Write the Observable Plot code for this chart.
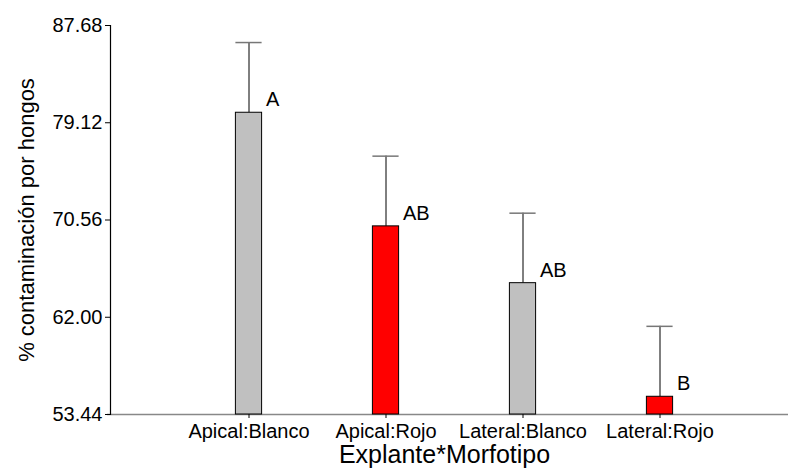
<!DOCTYPE html>
<html>
<head>
<meta charset="utf-8">
<script src="https://cdn.jsdelivr.net/npm/d3@7"></script>
<script src="https://cdn.jsdelivr.net/npm/@observablehq/plot@0.6"></script>
<style>
  html, body { margin: 0; padding: 0; background: #fff; }
</style>
</head>
<body>
<div id="chart"></div>
<script>
const categories = ["Apical:Blanco", "Apical:Rojo", "Lateral:Blanco", "Lateral:Rojo"];
const means = [80.0, 70.0, 65.0, 55.0];
const errors = [6.18, 6.18, 6.16, 6.2];
const letters = ["A", "AB", "AB", "B"];
const colors = ["#c0c0c0", "#ff0000", "#c0c0c0", "#ff0000"];
const yTicks = [53.44, 62.00, 70.56, 79.12, 87.68];
const yLabel = "% contaminación por hongos";
const xLabel = "Explante*Morfotipo";

const data = categories.map((c, i) => ({
  cat: c, mean: means[i], upper: means[i] + errors[i], letter: letters[i], color: colors[i]
}));

const yMin = yTicks[0], yMax = yTicks[yTicks.length - 1];
const barInset = 55.4;

const chart = Plot.plot({
  width: 788,
  height: 468,
  marginLeft: 110,
  marginRight: 0,
  marginTop: 25,
  marginBottom: 54,
  style: { fontFamily: "'Liberation Sans', Arial, sans-serif", fontSize: "20px", background: "#fff", color: "#000" },
  x: { domain: categories, range: [179.2, 729.8], padding: 0 },
  y: { domain: [yMin, yMax] },
  marks: [
    Plot.ruleY([yMin], { stroke: "#888", strokeWidth: 1.5, insetLeft: -3 }),
    Plot.ruleX(data, { x: "cat", y1: "mean", y2: "upper", stroke: "#000", strokeWidth: 1 }),
    Plot.tickY(data, { x: "cat", y: "upper", stroke: "#777", strokeWidth: 1.5, insetLeft: barInset, insetRight: barInset }),
    Plot.barY(data, { x: "cat", y1: yMin, y2: "mean", fill: "color", stroke: "#000", strokeWidth: 1, insetLeft: barInset, insetRight: barInset }),
    Plot.text(data, { x: "cat", y: "mean", text: "letter", textAnchor: "start", lineAnchor: "middle", dx: 17, dy: -13, fontSize: 20, fill: "#000" }),
    Plot.frame({ anchor: "left", stroke: "#000", strokeWidth: 1.2 }),
    Plot.axisY({ ticks: yTicks, tickFormat: d => d.toFixed(2), tickSize: 5, tickPadding: 3, label: null, fontSize: 20 }),
    Plot.axisX({ tickSize: 4, tickPadding: 5, label: null, fontSize: 20 }),
    Plot.text([yLabel], { frameAnchor: "left", textAnchor: "middle", lineAnchor: "middle", dx: -84, rotate: -90, fontSize: 22, fill: "#000" }),
    Plot.text([xLabel], { frameAnchor: "bottom", textAnchor: "middle", lineAnchor: "middle", dx: -5, dy: 40, fontSize: 25, fill: "#000" })
  ]
});
document.getElementById("chart").appendChild(chart);
</script>
</body>
</html>
